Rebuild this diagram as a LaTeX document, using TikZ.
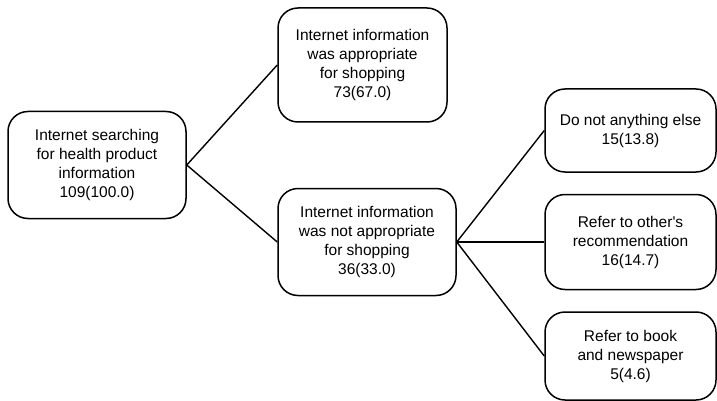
\documentclass[tikz,border=0pt]{standalone}
\usepackage{fontspec}
\setmainfont{Liberation Sans}
\usepackage{tikz}

\tikzset{
	box/.style={draw, line width=1.5pt, rounded corners=20pt, align=center, inner sep=0pt,
		font=\fontsize{15.5}{19}\selectfont},
	link/.style={line width=1.4pt}
}

\begin{document}
\begin{tikzpicture}[x=1pt, y=-1pt]
			\useasboundingbox (0,0) rectangle (717,401);
			% first level
			\node[box, minimum width=178pt, minimum height=107pt] (search) at (97,165)
				{Internet searching\\for health product\\information\\109(100.0)};
			% second level
			\node[box, minimum width=169pt, minimum height=114pt] (approp) at (362.5,65)
				{Internet information\\was appropriate\\for shopping\\73(67.0)};
			\node[box, minimum width=178pt, minimum height=107pt] (notapprop) at (367,242)
				{Internet information\\was not appropriate\\for shopping\\36(33.0)};
			% third level
			\node[box, minimum width=171pt, minimum height=83pt] (nothing) at (630.5,130.5)
				{Do not anything else\\15(13.8)};
			\node[box, minimum width=171pt, minimum height=95pt] (others) at (630.5,242)
				{Refer to other\textquotesingle s\\recommendation\\16(14.7)};
			\node[box, minimum width=171pt, minimum height=88pt] (book) at (630.5,356)
				{Refer to book\\and newspaper\\5(4.6)};
			% connectors
			\draw[link] (search.east) -- (approp.west);
			\draw[link] (search.east) -- (notapprop.west);
			\draw[link] (notapprop.east) -- (nothing.west);
			\draw[link] (notapprop.east) -- (others.west);
			\draw[link] (notapprop.east) -- (book.west);
		\end{tikzpicture}
\end{document}
